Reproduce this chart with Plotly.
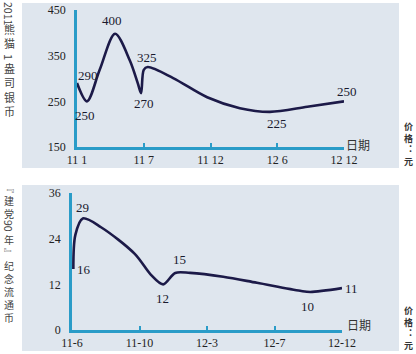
import plotly.graph_objects as go

W, H = 416, 354

# ---------------- data ----------------
top_ticks = ["11 1", "11 7", "11 12", "12 6", "12 12"]
top_x = [0.0, 0.15, 0.34, 0.57, 0.79, 0.91, 0.96, 1.0, 1.06, 1.44, 1.95, 2.44, 2.89, 3.45, 4.0]
top_y = [290, 250, 319, 398, 340, 290, 268, 319, 325, 301, 259, 235, 227, 238, 250]
top_lab_x = [0.0, 0.15, 0.57, 1.06, 0.96, 3.0, 4.0]
top_lab_v = [290, 250, 400, 325, 270, 225, 250]
top_yticks = [150, 250, 350, 450]

bot_ticks = ["11-6", "11-10", "12-3", "12-7", "12-12"]
bot_x = [0.02, 0.05, 0.16, 0.43, 0.93, 1.17, 1.35, 1.53, 1.75, 2.24, 2.74, 3.38, 3.53, 4.0]
bot_y = [16, 25, 29.3, 27, 20, 14.5, 12, 15, 15, 14, 12.4, 10.3, 10, 11]
bot_lab_x = [0.16, 0.02, 1.35, 1.6, 3.53, 4.0]
bot_lab_v = [29, 16, 12, 15, 10, 11]
bot_yticks = [0, 12, 24, 36]

# label offsets (style)
top_off = [(11, 8), (-2, -14), (-3, 12), (-1, 10), (3, -11), (0, -11), (3, 10)]
bot_off = [(0, 12), (11, 0), (-1, -14), (-1, 13), (-3, -15), (9, 0)]

AX = "#2a9cc8"
LINE = "#1c1a48"
BG = "#dfe6ee"
SERIF = "Liberation Serif, Times New Roman, DejaVu Serif, serif"
CJK = "Noto Sans CJK SC"


def px(x):
    return x / W


def py(y):
    return 1 - y / H


fig = go.Figure()
fig.add_trace(go.Scatter(x=top_x, y=top_y, mode="lines", xaxis="x", yaxis="y",
                         line=dict(color=LINE, width=2.6, shape="spline", smoothing=0.9),
                         cliponaxis=False, hoverinfo="skip"))
fig.add_trace(go.Scatter(x=bot_x, y=bot_y, mode="lines", xaxis="x2", yaxis="y2",
                         line=dict(color=LINE, width=2.6, shape="spline", smoothing=0.9),
                         cliponaxis=False, hoverinfo="skip"))

shapes = [
    dict(type="rect", xref="paper", yref="paper", x0=px(22), x1=px(399), y0=py(168), y1=py(3),
         fillcolor=BG, line=dict(width=0), layer="below"),
    dict(type="rect", xref="paper", yref="paper", x0=px(22), x1=px(399), y0=py(351), y1=py(185),
         fillcolor=BG, line=dict(width=0), layer="below"),
]

tickfont = dict(family=SERIF, size=12, color="#222222")
common_x = dict(showgrid=False, zeroline=False, showline=True, linecolor=AX, linewidth=2.5,
                ticks="inside", ticklen=4, tickwidth=2, tickcolor=AX, tickfont=tickfont,
                tickmode="array", tickvals=list(range(5)), range=[0, 4], automargin=False)
common_y = dict(showgrid=False, zeroline=False, showline=True, linecolor=AX, linewidth=2.5,
                ticks="", tickfont=tickfont, tickmode="array", ticklabelstandoff=6, automargin=False)

fig.update_layout(
    width=W, height=H, margin=dict(l=0, r=0, t=0, b=0, autoexpand=False),
    paper_bgcolor="white", plot_bgcolor="rgba(0,0,0,0)", showlegend=False,
    xaxis=dict(common_x, domain=[px(77), px(344)], ticktext=top_ticks, anchor="y"),
    yaxis=dict(common_y, domain=[py(147), py(10)], range=[150, 450], tickvals=top_yticks, anchor="x"),
    xaxis2=dict(common_x, domain=[px(72), px(342)], ticktext=bot_ticks, anchor="y2"),
    yaxis2=dict(common_y, domain=[py(330), py(193)], range=[0, 36], tickvals=bot_yticks, anchor="x2"),
    shapes=shapes,
)

ann = []
labfont = dict(family=SERIF, size=13, color="#1a1a2e")
for xv, v, (dx, dy) in zip(top_lab_x, top_lab_v, top_off):
    ann.append(dict(x=xv, y=v, xref="x", yref="y", text=str(v), showarrow=False,
                    xanchor="center", yanchor="middle",
                    xshift=dx, yshift=dy, font=labfont))
for xv, v, (dx, dy) in zip(bot_lab_x, bot_lab_v, bot_off):
    ann.append(dict(x=xv, y=v, xref="x2", yref="y2", text=str(v), showarrow=False,
                    xanchor="center", yanchor="middle",
                    xshift=dx, yshift=dy, font=labfont))

# 日期 labels
for (cx, cy) in [(358, 144), (359, 324)]:
    ann.append(dict(x=px(cx), y=py(cy), xref="paper", yref="paper", text="日期", showarrow=False,
                    xanchor="center", yanchor="middle",
                    font=dict(family=CJK, size=12, color="#333333")))

# vertical titles: (text, center y, rotated, font size)
left_blocks = [
    ("2011", 13, True, 10.5),
    ("熊<br>猫", 36, False, 11),
    ("1", 57, True, 11),
    ("盎<br>司<br>银<br>币", 89.5, False, 11),
    ("﹃<br>建<br>党", 200, False, 10),
    ("90", 226, True, 10.5),
    ("年<br>﹄<br>纪<br>念<br>流<br>通<br>币", 278, False, 10),
]
for t, yy, rot, fs in left_blocks:
    ann.append(dict(x=px(9), y=py(yy), xref="paper", yref="paper", text=t, showarrow=False,
                    xanchor="center", yanchor="middle", align="center",
                    textangle=90 if rot else 0,
                    font=dict(family=CJK, size=fs, color="#444444")))

right_blocks = [("价<br>格<br>︓<br>元", 144), ("价<br>格<br>︓<br>元", 328)]
for t, yy in right_blocks:
    ann.append(dict(x=px(408), y=py(yy), xref="paper", yref="paper", text="<b>%s</b>" % t,
                    showarrow=False, xanchor="center", yanchor="middle", align="center",
                    font=dict(family=CJK, size=9, color="#333333")))

fig.update_layout(annotations=ann)
fig.write_html("out.html")
